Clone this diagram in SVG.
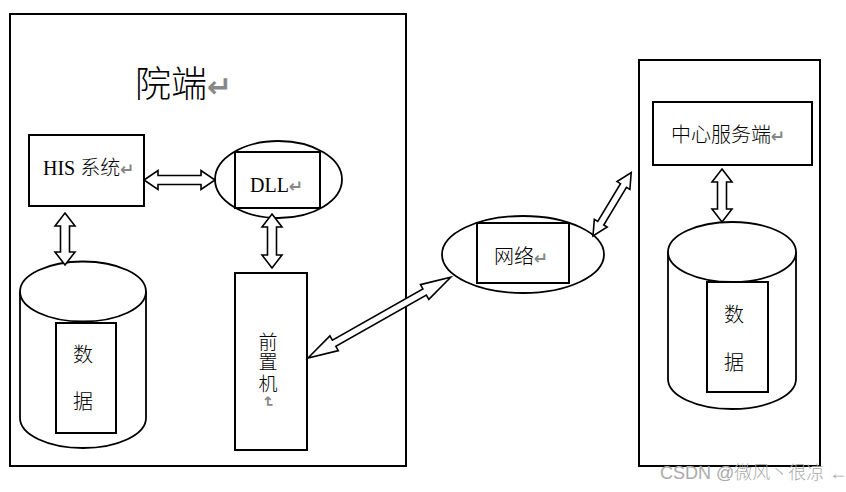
<svg xmlns="http://www.w3.org/2000/svg" width="846" height="492" viewBox="0 0 846 492">
<style>
.box{fill:#fff;stroke:#000;stroke-width:2}
.thin{fill:#fff;stroke:#000;stroke-width:1.8}
.arr{fill:#fff;stroke:#000;stroke-width:1.6;stroke-linejoin:miter}
.t{font-family:"Liberation Serif","Noto Sans CJK SC",serif;fill:#000;font-weight:300}
.rt{fill:#888;font-family:"DejaVu Sans",sans-serif;font-weight:bold}
.wm{font-family:"Liberation Sans","Noto Sans CJK SC",sans-serif;fill:#aaa;font-weight:300}
</style>
<rect width="846" height="492" fill="#fff"/>
<g id="hospital">
<rect class="box" x="10" y="14" width="396" height="452"/>
<text class="t" x="135" y="97" font-size="36">院端<tspan class="rt" font-size="30">↵</tspan></text>
</g>
<g id="his">
<rect class="box" x="29" y="135" width="115" height="71"/>
<text class="t" x="43" y="175" font-size="20">HIS 系统<tspan class="rt" font-size="17">↵</tspan></text>
</g>
<g id="dll">
<ellipse class="thin" cx="278.5" cy="179.5" rx="63.5" ry="38.5"/>
<rect class="box" x="235" y="152" width="85" height="56"/>
<text class="t" x="250" y="192" font-size="20">DLL<tspan class="rt" font-size="17">↵</tspan></text>
</g>
<g id="db-left">
<path class="thin" d="M20,291.5 V418 A63,30 0 0 0 146,418 V291.5"/>
<ellipse class="thin" cx="83" cy="291.5" rx="63" ry="30"/>
<rect class="box" x="56" y="323" width="60" height="110"/>
<text class="t" x="83" y="362" font-size="20" text-anchor="middle">数</text>
<text class="t" x="83" y="409" font-size="20" text-anchor="middle">据</text>
</g>
<g id="frontend">
<rect class="box" x="235" y="273" width="72" height="177"/>
<text class="t" x="268" y="349" font-size="19" text-anchor="middle">前</text>
<text class="t" x="268" y="369" font-size="19" text-anchor="middle">置</text>
<text class="t" x="268" y="391" font-size="19" text-anchor="middle">机</text>
<text class="rt" x="268" y="402" font-size="15" text-anchor="middle" transform="rotate(90 268 402)" dy="5">↵</text>
</g>
<g id="network">
<ellipse class="thin" cx="523" cy="254.5" rx="81" ry="38.5"/>
<rect class="box" x="477" y="223" width="92" height="60"/>
<text class="t" x="494" y="264" font-size="20">网络<tspan class="rt" font-size="17">↵</tspan></text>
</g>
<g id="center">
<rect class="box" x="639" y="60" width="181" height="406"/>
</g>
<g id="center-server">
<rect class="box" x="653" y="102" width="159" height="63"/>
<text class="t" x="671" y="142" font-size="20">中心服务端<tspan class="rt" font-size="17">↵</tspan></text>
</g>
<g id="db-right">
<path class="thin" d="M668,252 V379 A64,30 0 0 0 796,379 V252"/>
<ellipse class="thin" cx="732" cy="252" rx="64" ry="30"/>
<rect class="box" x="707" y="282" width="61" height="110"/>
<text class="t" x="734" y="322" font-size="20" text-anchor="middle">数</text>
<text class="t" x="734" y="370" font-size="20" text-anchor="middle">据</text>
</g>
<g id="connectors">
<polygon class="arr" transform="translate(144,180)" points="0,0 14,-9.5 14,-4.5 57,-4.5 57,-9.5 71,0 57,9.5 57,4.5 14,4.5 14,9.5"/>
<polygon class="arr" transform="translate(65,213) rotate(90)" points="0,0 13,-10 13,-4.5 39,-4.5 39,-10 52,0 39,10 39,4.5 13,4.5 13,10"/>
<polygon class="arr" transform="translate(272,214) rotate(90)" points="0,0 13,-10 13,-4.5 41,-4.5 41,-10 54,0 41,10 41,4.5 13,4.5 13,10"/>
<polygon class="arr" transform="translate(308,358) rotate(-29.5)" points="0,0 30,-8.5 30,-3.5 134,-3.5 134,-8.5 164,0 134,8.5 134,3.5 30,3.5 30,8.5"/>
<polygon class="arr" transform="translate(593,236) rotate(-58.9)" points="0,0 15,-7.5 15,-3.5 59,-3.5 59,-7.5 74,0 59,7.5 59,3.5 15,3.5 15,7.5"/>
<polygon class="arr" transform="translate(722,169) rotate(90)" points="0,0 13,-10 13,-4.5 40,-4.5 40,-10 53,0 40,10 40,4.5 13,4.5 13,10"/>
</g>
<text class="wm" x="660" y="479" font-size="18">CSDN @微风丶很凉 ←</text>
</svg>
